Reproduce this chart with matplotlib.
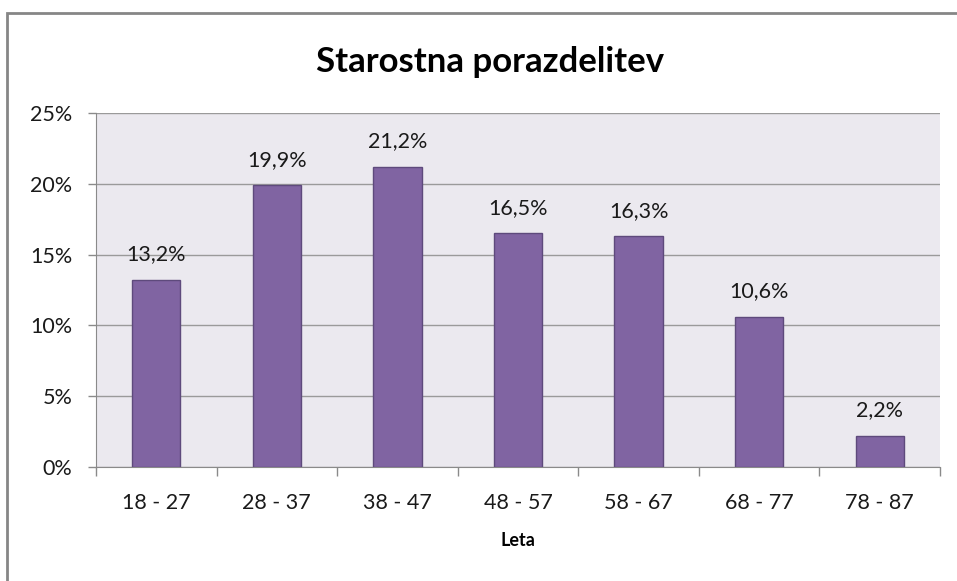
import matplotlib.pyplot as plt
import matplotlib.patches as mpatches
import numpy as np

# podatki
kategorije = ['18 - 27', '28 - 37', '38 - 47', '48 - 57', '58 - 67', '68 - 77', '78 - 87']
delezi = [13.2, 19.9, 21.2, 16.5, 16.3, 10.6, 2.2]
y_ticki = [0, 5, 10, 15, 20, 25]

plt.rcParams['font.family'] = ['Lato', 'DejaVu Sans']

fig = plt.figure(figsize=(9.57, 5.81), dpi=100)
ax = fig.add_axes([96/957, 1-467/581, (940-96)/957, (467-113)/581])

x = np.arange(len(kategorije))
ax.bar(x, delezi, width=0.4, color='#8064A2', edgecolor='#5E4A7C', linewidth=1, zorder=3)

for xi, v in zip(x, delezi):
    ax.text(xi, v + 1.1, ('%.1f%%' % v).replace('.', ','), ha='center', va='bottom',
            fontsize=15.5, color='#1a1a1a')

ax.set_xlim(-0.5, len(kategorije) - 0.5)
ax.set_ylim(0, 25)
ax.set_facecolor('#EBE9EF')
ax.set_yticks(y_ticki)
ax.set_yticklabels(['%d%%' % t for t in y_ticki], fontsize=15.5, color='#1a1a1a')
ax.yaxis.grid(True, color='#9A9A9A', linewidth=1, zorder=0)
ax.set_xticks(x)
ax.set_xticklabels(kategorije, fontsize=15.5, color='#1a1a1a')
ax.tick_params(axis='x', length=0, pad=19)
ax.set_xticks(np.arange(-0.5, len(kategorije)), minor=True)
ax.tick_params(axis='x', which='minor', length=6.5, color='#8A8A8A', width=1)
ax.tick_params(axis='y', length=6, color='#8A8A8A', width=1, pad=11)
for s in ['top', 'right']:
    ax.spines[s].set_visible(False)
ax.spines['left'].set_color('#8A8A8A')
ax.spines['bottom'].set_color('#8A8A8A')
ax.set_xlabel('Leta', fontsize=13, fontweight='bold', va='center')
ax.xaxis.set_label_coords(0.5, -(541 - 467) / (467 - 113))

fig.text(490/957, 1-62/581, 'Starostna porazdelitev', ha='center', va='center',
         fontsize=25, fontweight='bold')

# okvir grafa
okvir = mpatches.Rectangle((7/957, -0.1), 1.1, 1-13/581+0.1, transform=fig.transFigure,
                           fill=False, edgecolor='#868686', linewidth=2)
fig.add_artist(okvir)

fig.savefig('out.png', dpi=100)
